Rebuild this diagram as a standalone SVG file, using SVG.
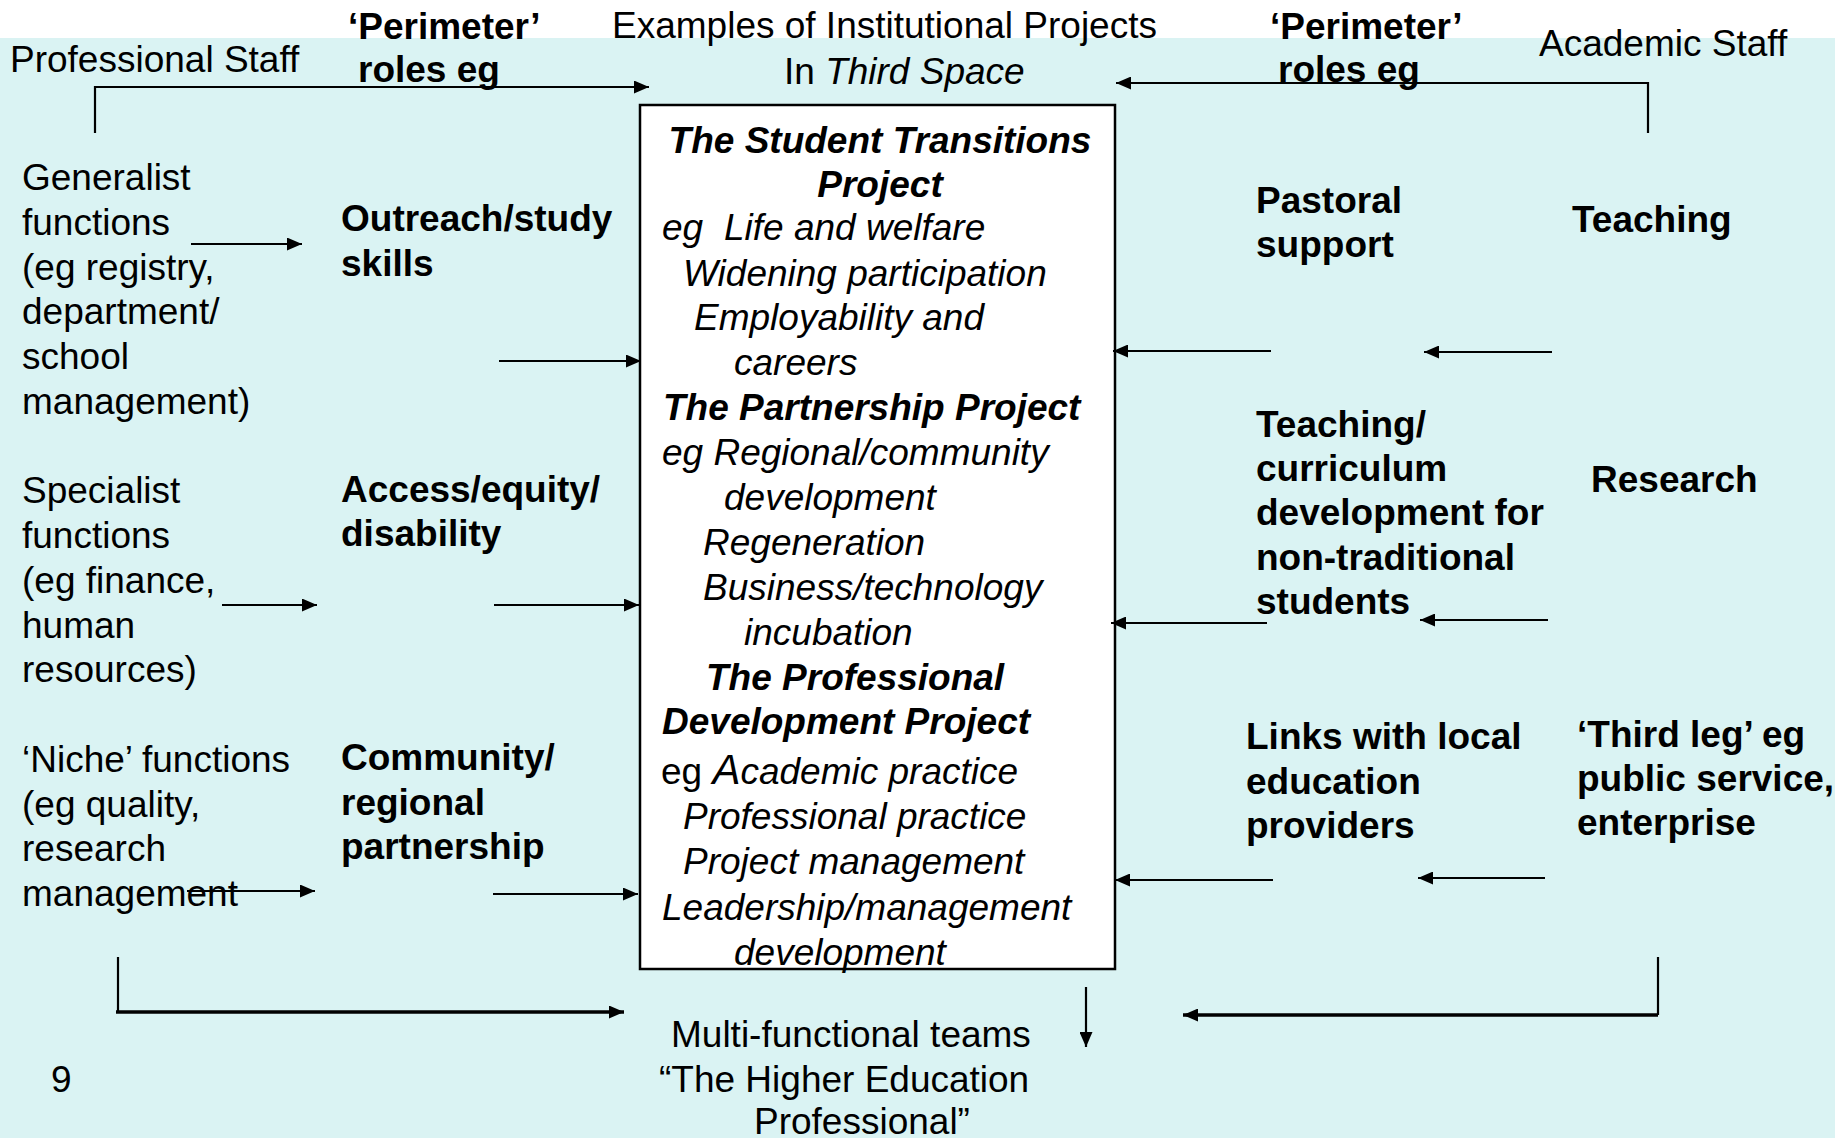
<svg xmlns="http://www.w3.org/2000/svg" width="1835" height="1138" viewBox="0 0 1835 1138">
  <defs>
    <style>
      text { font-family: "Liberation Sans", Arial, sans-serif; font-size: 37px; fill: #000; }
      .b { font-weight: bold; }
      .i { font-style: italic; }
      .bi { font-weight: bold; font-style: italic; }
      .ln { fill: none; stroke: #000; stroke-width: 2.2; }
      .thick { stroke-width: 3.6; }
    </style>
    <marker id="ah" markerUnits="userSpaceOnUse" markerWidth="15" markerHeight="13" refX="15" refY="6.5" orient="auto">
      <path d="M0,0 L15,6.5 L0,13 z" fill="#000"/>
    </marker>
  </defs>

  <!-- background -->
  <rect x="0" y="0" width="1835" height="1138" fill="#ffffff"/>
  <rect x="0" y="38" width="1835" height="1100" fill="#daf3f3"/>

  <!-- headings -->
  <g id="professional-staff"><text x="10" y="72">Professional Staff</text></g>
  <g id="academic-staff"><text x="1539" y="56">Academic Staff</text></g>
  <g id="perimeter-left">
    <text x="348" y="39" class="b">‘Perimeter’</text>
    <text x="358" y="82" class="b">roles eg</text>
  </g>
  <g id="perimeter-right">
    <text x="1270" y="39" class="b">‘Perimeter’</text>
    <text x="1278" y="82" class="b">roles eg</text>
  </g>
  <g id="title">
    <text x="612" y="38">Examples of Institutional Projects</text>
    <text x="784" y="84">In <tspan class="i">Third Space</tspan></text>
  </g>

  <!-- professional staff functions -->
  <g id="generalist">
    <text x="22" y="190">Generalist</text>
    <text x="22" y="235">functions</text>
    <text x="22" y="280">(eg registry,</text>
    <text x="22" y="324">department/</text>
    <text x="22" y="369">school</text>
    <text x="22" y="414">management)</text>
  </g>
  <g id="specialist">
    <text x="22" y="503">Specialist</text>
    <text x="22" y="548">functions</text>
    <text x="22" y="593">(eg finance,</text>
    <text x="22" y="638">human</text>
    <text x="22" y="682">resources)</text>
  </g>
  <g id="niche">
    <text x="22" y="772">‘Niche’ functions</text>
    <text x="22" y="817">(eg quality,</text>
    <text x="22" y="861">research</text>
    <text x="22" y="906">management</text>
  </g>

  <!-- perimeter roles, professional side -->
  <g id="outreach">
    <text x="341" y="231" class="b">Outreach/study</text>
    <text x="341" y="276" class="b">skills</text>
  </g>
  <g id="access">
    <text x="341" y="502" class="b">Access/equity/</text>
    <text x="341" y="546" class="b">disability</text>
  </g>
  <g id="community">
    <text x="341" y="770" class="b">Community/</text>
    <text x="341" y="815" class="b">regional</text>
    <text x="341" y="859" class="b">partnership</text>
  </g>

  <!-- perimeter roles, academic side -->
  <g id="pastoral">
    <text x="1256" y="213" class="b">Pastoral</text>
    <text x="1256" y="257" class="b">support</text>
  </g>
  <g id="teaching-curriculum">
    <text x="1256" y="437" class="b">Teaching/</text>
    <text x="1256" y="481" class="b">curriculum</text>
    <text x="1256" y="525" class="b">development for</text>
    <text x="1256" y="570" class="b">non-traditional</text>
    <text x="1256" y="614" class="b">students</text>
  </g>
  <g id="links">
    <text x="1246" y="749" class="b">Links with local</text>
    <text x="1246" y="794" class="b">education</text>
    <text x="1246" y="838" class="b">providers</text>
  </g>

  <!-- academic staff functions -->
  <g id="teaching"><text x="1572" y="232" class="b">Teaching</text></g>
  <g id="research"><text x="1591" y="492" class="b">Research</text></g>
  <g id="third-leg">
    <text x="1577" y="747" class="b">‘Third leg’ eg</text>
    <text x="1577" y="791" class="b">public service,</text>
    <text x="1577" y="835" class="b">enterprise</text>
  </g>

  <!-- central box of projects -->
  <g id="projects">
    <rect x="640" y="105" width="475" height="864" fill="#ffffff" stroke="#000" stroke-width="2.5"/>
    <text x="880" y="153" class="bi" text-anchor="middle">The Student Transitions</text>
    <text x="880" y="197" class="bi" text-anchor="middle">Project</text>
    <text x="662" y="240" class="i">eg</text>
    <text x="724" y="240" class="i">Life and welfare</text>
    <text x="683" y="286" class="i">Widening participation</text>
    <text x="694" y="330" class="i">Employability and</text>
    <text x="734" y="375" class="i">careers</text>
    <text x="663" y="420" class="bi">The Partnership Project</text>
    <text x="662" y="465" class="i">eg Regional/community</text>
    <text x="724" y="510" class="i">development</text>
    <text x="703" y="555" class="i">Regeneration</text>
    <text x="703" y="600" class="i">Business/technology</text>
    <text x="744" y="645" class="i">incubation</text>
    <text x="706" y="690" class="bi">The Professional</text>
    <text x="662" y="734" class="bi">Development Project</text>
    <text x="661" y="784">eg <tspan class="i" font-size="42">A</tspan><tspan class="i">cademic practice</tspan></text>
    <text x="683" y="829" class="i">Professional practice</text>
    <text x="683" y="874" class="i">Project management</text>
    <text x="662" y="920" class="i">Leadership/management</text>
    <text x="734" y="965" class="i">development</text>
  </g>

  <!-- outcome -->
  <g id="multi-functional">
    <text x="671" y="1047">Multi-functional teams</text>
    <text x="659" y="1092">“The Higher Education</text>
    <text x="754" y="1134">Professional”</text>
  </g>
  <g id="page-number"><text x="51" y="1092" font-size="30">9</text></g>

  <!-- connectors -->
  <g id="connectors">
    <polyline class="ln" points="95,133 95,87 649,87" marker-end="url(#ah)"/>
    <polyline class="ln" points="1648,133 1648,83 1116,83" marker-end="url(#ah)"/>
    <line class="ln" x1="191" y1="244" x2="302" y2="244" marker-end="url(#ah)"/>
    <line class="ln" x1="499" y1="361" x2="641" y2="361" marker-end="url(#ah)"/>
    <line class="ln" x1="222" y1="605" x2="317" y2="605" marker-end="url(#ah)"/>
    <line class="ln" x1="494" y1="605" x2="639" y2="605" marker-end="url(#ah)"/>
    <line class="ln" x1="187" y1="891" x2="315" y2="891" marker-end="url(#ah)"/>
    <line class="ln" x1="493" y1="894" x2="638" y2="894" marker-end="url(#ah)"/>
    <line class="ln" x1="1552" y1="352" x2="1424" y2="352" marker-end="url(#ah)"/>
    <line class="ln" x1="1271" y1="351" x2="1113" y2="351" marker-end="url(#ah)"/>
    <line class="ln" x1="1548" y1="620" x2="1420" y2="620" marker-end="url(#ah)"/>
    <line class="ln" x1="1267" y1="623" x2="1111" y2="623" marker-end="url(#ah)"/>
    <line class="ln" x1="1545" y1="878" x2="1418" y2="878" marker-end="url(#ah)"/>
    <line class="ln" x1="1273" y1="880" x2="1115" y2="880" marker-end="url(#ah)"/>
    <line class="ln" x1="1086" y1="987" x2="1086" y2="1047" marker-end="url(#ah)"/>
    <polyline class="ln" points="118,957 118,1012" />
    <line class="ln thick" x1="116" y1="1012" x2="624" y2="1012" marker-end="url(#ah)"/>
    <polyline class="ln" points="1658,957 1658,1015"/>
    <line class="ln thick" x1="1658" y1="1015" x2="1183" y2="1015" marker-end="url(#ah)"/>
  </g>
</svg>
